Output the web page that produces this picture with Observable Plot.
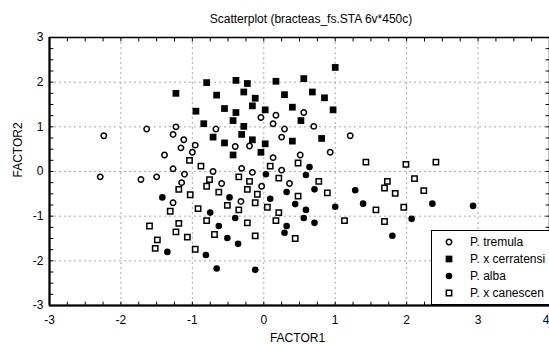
<!DOCTYPE html>
<html>
<head>
<meta charset="utf-8">
<script src="https://cdn.jsdelivr.net/npm/d3@7"></script>
<script src="https://cdn.jsdelivr.net/npm/@observablehq/plot@0.6"></script>
<style>
html, body { margin: 0; padding: 0; background: #fff; }
#wrap { position: relative; width: 549px; height: 345px; overflow: hidden; font-family: "Liberation Sans", Arial, sans-serif; color: #000; }
#chart { position: absolute; left: 0; top: 0; }
#title { position: absolute; left: 0; width: 622px; top: 12px; text-align: center; font-size: 12px; line-height: 14px; white-space: nowrap; }
#legend { position: absolute; left: 431px; top: 230px; width: 150px; height: 75px; border: 1px solid #000; background: #fff; padding-top: 3px; box-sizing: border-box; }
.row { position: relative; height: 17px; font-size: 12px; line-height: 17px; white-space: nowrap; }
.row svg { position: absolute; left: 12px; top: 3px; }
.row span { position: absolute; left: 38px; top: 0; }
</style>
</head>
<body>
<div id="wrap">
  <div id="chart"></div>
  <div id="title"></div>
  <div id="legend"></div>
</div>
<script>
const titleText = "Scatterplot (bracteas_fs.STA 6v*450c)";
const xLabel = "FACTOR1";
const yLabel = "FACTOR2";
const xTicks = [-3, -2, -1, 0, 1, 2, 3];
const xTickLast = [4];
const yTicks = [-3, -2, -1, 0, 1, 2, 3];
const xGrid = [-2, -1, 0, 1, 2, 3];
const yGrid = [-2, -1, 0, 1, 2];
const xMinor = d3.range(-3, 4.001, 0.25);
const yMinor = d3.range(-3, 3.001, 0.25);

// legend labels as visible in the reference (cut at the picture's right edge)
const seriesNames = ["P. tremula", "P. x cerratensi", "P. alba", "P. x canescen"];

// P. tremula (open circles)
const tremula = [
  [-2.24, 0.80], [-1.64, 0.95], [-1.23, 1.00], [-1.27, 0.83], [-1.12, 0.71], [-1.16, 0.53],
  [-0.96, 0.59], [-1.00, 0.43], [-1.39, 0.37], [-0.67, 0.95], [-0.04, 1.21], [0.17, 1.26],
  [0.56, 1.32], [0.13, 1.07], [0.29, 0.95], [0.70, 1.01], [0.25, 0.77], [1.21, 0.80],
  [-0.40, 0.56], [-0.20, 0.57], [0.13, 0.31], [0.51, 0.37], [0.93, 0.43], [-1.27, 0.06],
  [-1.11, -0.06], [-0.71, 0.00], [-2.29, -0.12], [-1.72, -0.18], [-1.50, -0.12], [-1.15, -0.25],
  [-0.59, -0.27], [-1.27, -0.70], [-0.31, 0.07], [-0.16, -0.02], [0.25, 0.03], [-0.03, -0.33],
  [0.36, -0.27], [-0.32, -0.67]
];

// P. x cerratensis (filled squares)
const cerratensis = [
  [-0.80, 1.99], [-1.23, 1.75], [-0.66, 1.71], [-0.95, 1.35], [-0.55, 1.41], [-0.84, 1.07],
  [-0.71, 0.77], [-0.55, 0.64], [-0.39, 2.04], [-0.23, 1.97], [0.17, 2.02], [0.56, 2.08],
  [1.00, 2.33], [-0.28, 1.78], [-0.12, 1.64], [0.29, 1.72], [0.68, 1.78], [0.85, 1.65],
  [-0.39, 1.32], [-0.16, 1.47], [0.02, 1.38], [0.40, 1.44], [0.97, 1.38], [-0.43, 1.14],
  [-0.28, 1.01], [0.52, 1.14], [-0.31, 0.83], [-0.16, 0.71], [0.02, 0.62], [0.40, 0.68],
  [0.81, 0.74], [-0.43, 0.37], [-0.04, 0.43]
];

// P. alba (filled circles)
const alba = [
  [-1.42, -0.58], [-0.48, -0.58], [-0.75, -0.92], [-0.63, -1.22], [-0.51, -1.49], [-1.35, -1.80],
  [-0.81, -1.87], [-0.66, -2.17], [0.64, 0.10], [0.03, -0.06], [0.59, -0.08], [0.71, -0.40],
  [0.32, -0.46], [1.28, -0.42], [0.09, -0.61], [0.44, -0.73], [1.39, -0.72], [1.00, -0.79],
  [0.59, -0.86], [-0.40, -1.04], [0.56, -1.04], [0.71, -1.15], [0.32, -1.22], [0.29, -1.37],
  [-0.36, -1.62], [-0.12, -2.20], [2.36, -0.72], [2.93, -0.77], [2.07, -1.06], [1.80, -1.44]
];

// P. x canescens (open squares)
const canescens = [
  [-1.04, 0.25], [-0.88, 0.12], [-0.76, -0.18], [-0.80, -0.33], [-1.19, -0.40], [-1.03, -0.52],
  [-0.63, -0.46], [-0.51, -0.76], [-1.31, -0.89], [-0.92, -0.83], [-0.80, -1.10], [-1.19, -1.16],
  [-1.60, -1.22], [-1.23, -1.35], [-1.07, -1.47], [-0.69, -1.41], [-1.49, -1.53], [-1.52, -1.72],
  [-0.96, -1.74], [0.09, 0.12], [0.48, 0.19], [1.43, 0.21], [-0.35, -0.12], [-0.20, -0.22],
  [0.21, -0.15], [0.77, -0.22], [-0.23, -0.40], [-0.09, -0.51], [0.48, -0.55], [0.89, -0.48],
  [-0.35, -0.86], [-0.12, -0.70], [0.05, -0.80], [1.57, -0.86], [-0.23, -1.15], [0.21, -0.92],
  [0.17, -1.10], [1.13, -1.10], [-0.12, -1.44], [0.44, -1.50], [1.99, 0.16], [2.41, 0.21],
  [2.11, -0.16], [1.73, -0.22], [1.69, -0.37], [1.84, -0.49], [2.24, -0.43], [1.96, -0.80],
  [1.69, -1.12]
];

const styles = [
  {data: tremula, symbol: "circle", r: 2.7, fill: "#fff", stroke: "#000", strokeWidth: 1.5},
  {data: cerratensis, symbol: "square", r: 3.8, fill: "#000", stroke: "none", strokeWidth: 0},
  {data: alba, symbol: "circle", r: 3.3, fill: "#000", stroke: "none", strokeWidth: 0},
  {data: canescens, symbol: "square", r: 3.0, fill: "#fff", stroke: "#000", strokeWidth: 1.5}
];

const noText = () => "";
const intText = d => String(d);
const font = "Liberation Sans, Arial, sans-serif";

// straight line shape for inner tick marks
const tickShape = {draw(context, l) { context.moveTo(0, 0); context.lineTo(0, -l); }};
const innerTicks = (data, channel, frameAnchor, rotate) => Plot.vector(data, {
  [channel]: d => d, frameAnchor, rotate, length: 3.5, anchor: "start",
  shape: tickShape, stroke: "#000", strokeWidth: 1
});

const chart = Plot.plot({
  width: 549,
  height: 345,
  marginTop: 37,
  marginBottom: 40,
  marginLeft: 49,
  marginRight: 0,
  style: {fontFamily: font, fontSize: "12px", background: "#fff", color: "#000"},
  x: {domain: [-3, 4]},
  y: {domain: [-3, 3]},
  marks: [
    Plot.gridX({ticks: xGrid, stroke: "#a8a8a8", strokeOpacity: 1, strokeWidth: 1, strokeDasharray: "2,3"}),
    Plot.gridY({ticks: yGrid, stroke: "#a8a8a8", strokeOpacity: 1, strokeWidth: 1, strokeDasharray: "2,3"}),
    ...styles.map(s => Plot.dot(s.data, {
      x: d => d[0], y: d => d[1], symbol: () => s.symbol, r: s.r,
      fill: s.fill, stroke: s.stroke, strokeWidth: s.strokeWidth
    })),
    Plot.frame({stroke: "#000", strokeWidth: 1.5}),
    Plot.ruleX([-3], {stroke: "#000", strokeWidth: 2}),
    Plot.ruleY([-3], {stroke: "#000", strokeWidth: 2}),
    innerTicks(xMinor, "x", "bottom", 0),
    innerTicks(xMinor, "x", "top", 180),
    innerTicks(yMinor, "y", "left", 90),
    innerTicks(yMinor, "y", "right", -90),
    Plot.axisX({ticks: xTicks, tickSize: 0, tickPadding: 10, tickFormat: intText, label: null, fontSize: 12, fill: "#000"}),
    Plot.axisX({ticks: xTickLast, tickSize: 0, tickPadding: 10, tickFormat: intText, label: null, fontSize: 12, fill: "#000", textAnchor: "end"}),
    Plot.axisY({ticks: yTicks, tickSize: 0, tickPadding: 6, tickFormat: intText, label: null, fontSize: 12, fill: "#000"}),
    Plot.text([xLabel], {frameAnchor: "bottom", dy: 36, dx: -2, fontSize: 12, fill: "#000"}),
    Plot.text([yLabel], {frameAnchor: "left", rotate: -90, dx: -31, dy: 6, fontSize: 12, fill: "#000"})
  ]
});
document.getElementById("chart").appendChild(chart);
document.getElementById("title").textContent = titleText;

const legend = document.getElementById("legend");
seriesNames.forEach((name, i) => {
  const s = styles[i];
  const row = document.createElement("div");
  row.className = "row";
  const size = Math.PI * s.r * s.r;
  const path = d3.symbol(s.symbol === "circle" ? d3.symbolCircle : d3.symbolSquare, size)();
  row.innerHTML = `<svg width="10" height="10" viewBox="-5 -5 10 10"><path d="${path}" fill="${s.fill}" stroke="${s.stroke}" stroke-width="${s.strokeWidth}"></path></svg><span></span>`;
  row.querySelector("span").textContent = name;
  legend.appendChild(row);
});
</script>
</body>
</html>
